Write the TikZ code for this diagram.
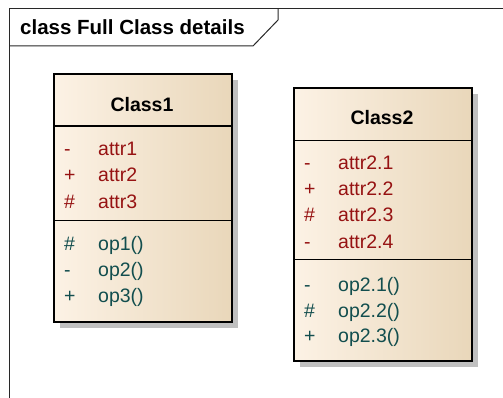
\documentclass[tikz,border=0pt]{standalone}
\usepackage{fontspec}
\setmainfont{Liberation Sans}
\usetikzlibrary{shadows}
\definecolor{attrc}{RGB}{150,18,18}
\definecolor{opc}{RGB}{18,78,78}
\definecolor{boxl}{RGB}{252,242,229}
\definecolor{boxm}{RGB}{248,236,219}
\definecolor{boxr}{RGB}{233,215,186}
\definecolor{shadowc}{RGB}{192,192,192}
\definecolor{framec}{RGB}{40,40,40}
\begin{document}
\begin{tikzpicture}[x=1pt,y=-1pt,
  classbox/.style={draw=black, line width=1.7pt, left color=boxl, middle color=boxm, right color=boxr,
    drop shadow={shadow xshift=6pt, shadow yshift=-6pt, fill=shadowc, opacity=1},
    anchor=north west, inner sep=0pt},
  divider/.style={draw=black, line width=1.3pt},
  cname/.style={font=\fontsize{19.5}{23}\selectfont\bfseries, anchor=base, inner sep=0pt},
  attrt/.style={font=\fontsize{19.5}{23}\selectfont, text=attrc, anchor=base west, inner sep=0pt},
  opt/.style={font=\fontsize{19.5}{23}\selectfont, text=opc, anchor=base west, inner sep=0pt},
  framel/.style={draw=framec, line width=1pt}]
\useasboundingbox (0,0) rectangle (503,398);
% frame
\coordinate (ftr) at (503,8.5);
\coordinate (ftl) at (9,8.5);
\coordinate (fbl) at (9,398);
\coordinate (tbl) at (9,46);
\coordinate (tbr) at (253,46);
\coordinate (tdg) at (278,20);
\coordinate (ttp) at (278,8.5);
\draw[framel] (ftr) -- (ftl) -- (fbl);
\draw[framel] (tbl) -- (tbr) -- (tdg) -- (ttp);
\node[font=\fontsize{20.5}{24}\selectfont\bfseries, anchor=base west, inner sep=0pt] (title) at (20,35) {class Full Class details};

% Class1
\node[classbox, minimum width=178pt, minimum height=248pt] (c1) at (53,73) {};
\coordinate (c1d1) at (0,126);
\coordinate (c1d2) at (0,220.5);
\draw[divider] (c1.west |- c1d1) -- (c1.east |- c1d1);
\draw[divider] (c1.west |- c1d2) -- (c1.east |- c1d2);
\node[cname] (c1n) at (142,112) {Class1};
\node[attrt] (c1a1v) at (64,156) {-};
\node[attrt] (c1a1) at (98,156) {attr1};
\node[attrt] (c1a2v) at (64,182) {+};
\node[attrt] (c1a2) at (98,182) {attr2};
\node[attrt] (c1a3v) at (64,208) {\#};
\node[attrt] (c1a3) at (98,208) {attr3};
\node[opt] (c1o1v) at (64,250) {\#};
\node[opt] (c1o1) at (98,250) {op1()};
\node[opt] (c1o2v) at (64,276) {-};
\node[opt] (c1o2) at (98,276) {op2()};
\node[opt] (c1o3v) at (64,302) {+};
\node[opt] (c1o3) at (98,302) {op3()};

% Class2
\node[classbox, minimum width=178pt, minimum height=273pt] (c2) at (293,87) {};
\coordinate (c2d1) at (0,140.5);
\coordinate (c2d2) at (0,259.5);
\draw[divider] (c2.west |- c2d1) -- (c2.east |- c2d1);
\draw[divider] (c2.west |- c2d2) -- (c2.east |- c2d2);
\node[cname] (c2n) at (382,125) {Class2};
\node[attrt] (c2a1v) at (304,170) {-};
\node[attrt] (c2a1) at (338,170) {attr2.1};
\node[attrt] (c2a2v) at (304,196) {+};
\node[attrt] (c2a2) at (338,196) {attr2.2};
\node[attrt] (c2a3v) at (304,222) {\#};
\node[attrt] (c2a3) at (338,222) {attr2.3};
\node[attrt] (c2a4v) at (304,248) {-};
\node[attrt] (c2a4) at (338,248) {attr2.4};
\node[opt] (c2o1v) at (304,291) {-};
\node[opt] (c2o1) at (338,291) {op2.1()};
\node[opt] (c2o2v) at (304,317) {\#};
\node[opt] (c2o2) at (338,317) {op2.2()};
\node[opt] (c2o3v) at (304,342) {+};
\node[opt] (c2o3) at (338,342) {op2.3()};
\end{tikzpicture}
\end{document}
